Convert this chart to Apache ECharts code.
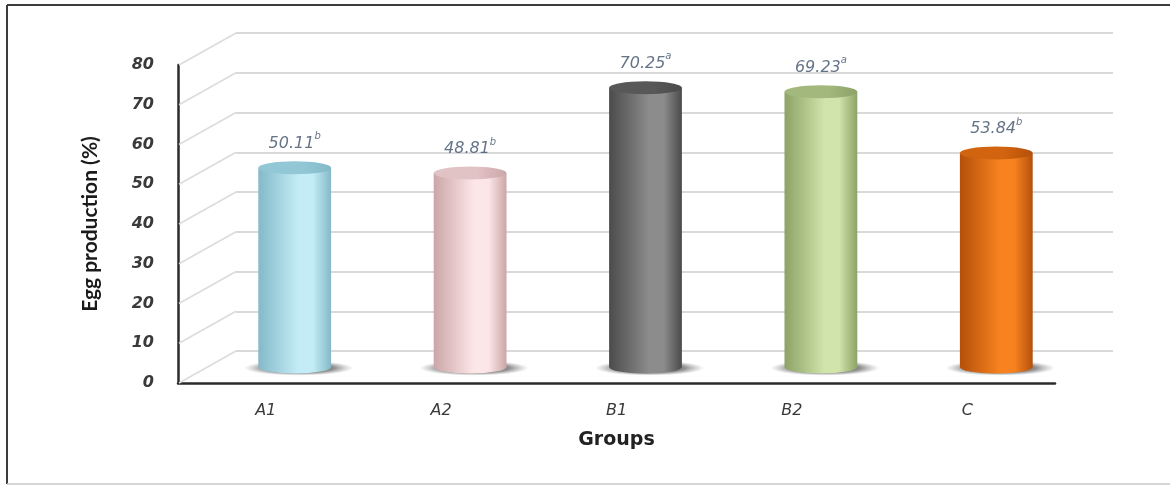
<!DOCTYPE html>
<html>
<head>
<meta charset="utf-8">
<title>Egg production by group</title>
<script src="https://cdn.jsdelivr.net/npm/echarts@6.0.0/dist/echarts.min.js"></script>
<style>
  html, body { margin: 0; padding: 0; background: #ffffff; }
  #chart { width: 1170px; height: 485px; }
</style>
</head>
<body>
<div id="chart"></div>
<script>
// Egg production (%) per experimental group, with significance letters
const groups = ['A1', 'A2', 'B1', 'B2', 'C'];
const eggProduction = [50.11, 48.81, 70.25, 69.23, 53.84];
const sigLetters = ['b', 'b', 'a', 'a', 'b'];
const yTicks = [0, 10, 20, 30, 40, 50, 60, 70, 80];

// cylinder colours: [edge, centre highlight, top cap]
const palette = [
  ['#84b9c8', '#c3ecf6', '#92c8d6'],
  ['#cba6a8', '#fde6e7', '#e2c3c5'],
  ['#4b4b4b', '#8c8c8c', '#585858'],
  ['#8ca266', '#d1e4ab', '#a2b87c'],
  ['#b4500b', '#f7821f', '#d2640f']
];

// depth of the pseudo-3D box (back wall offset from the front axes)
const DX = 58, DY = -32;

const chart = echarts.init(document.getElementById('chart'));

function bodyGradient(c) {
  return new echarts.graphic.LinearGradient(0, 0, 1, 0, [
    { offset: 0, color: c[0] },
    { offset: 0.55, color: c[1] },
    { offset: 0.75, color: c[1] },
    { offset: 1, color: c[0] }
  ]);
}

function renderCylinder(params, api) {
  const i = api.value(0);
  const v = api.value(1);
  const top = api.coord([i, v]);
  const base = api.coord([i, 0]);
  const bw = api.size([1, 0])[0];
  const w = bw * 0.415;
  const r = w / 2;
  const ry = 6.5;
  const cx = top[0] + DX / 2;
  const topY = top[1] + DY / 2;
  const baseY = base[1] + DY / 2;
  const c = palette[i];
  return {
    type: 'group',
    children: [
      {
        type: 'circle',
        shape: { cx: 0, cy: 0, r: r * 1.5 },
        x: cx + 4, y: baseY + 1, scaleY: 0.14,
        style: {
          fill: new echarts.graphic.RadialGradient(0.5, 0.5, 0.5, [
            { offset: 0, color: 'rgba(40,40,40,0.9)' },
            { offset: 0.65, color: 'rgba(70,70,70,0.6)' },
            { offset: 1, color: 'rgba(120,120,120,0)' }
          ])
        }
      },
      {
        type: 'circle',
        shape: { cx: 0, cy: 0, r: r },
        x: cx, y: baseY, scaleY: ry / r,
        style: { fill: bodyGradient(c) }
      },
      {
        type: 'rect',
        shape: { x: cx - r, y: topY, width: w, height: baseY - topY },
        style: { fill: bodyGradient(c) }
      },
      {
        type: 'circle',
        shape: { cx: 0, cy: 0, r: r },
        x: cx, y: topY, scaleY: ry / r,
        style: {
          fill: new echarts.graphic.LinearGradient(0, 0, 1, 0, [
            { offset: 0, color: c[2] },
            { offset: 0.6, color: c[2] },
            { offset: 1, color: c[0] }
          ])
        }
      }
    ]
  };
}

function renderSideWall(params, api) {
  const y = api.coord([0, api.value(1)])[1];
  const x0 = params.coordSys.x;
  return {
    type: 'line',
    shape: { x1: x0 + 1, y1: y, x2: x0 + DX, y2: y + DY },
    style: { stroke: '#dcdcdc', lineWidth: 1.6 }
  };
}

const tickFont = { fontFamily: 'DejaVu Sans', fontStyle: 'italic' };

chart.setOption({
  backgroundColor: '#ffffff',
  animation: false,
  grid: [
    { left: 178, top: 65, width: 877, height: 318 },
    { left: 178 + DX, top: 65 + DY, width: 877, height: 318 }
  ],
  xAxis: [
    {
      type: 'category', gridIndex: 0, data: groups,
      axisLine: { lineStyle: { color: '#2b2b2b', width: 2.5 } },
      axisTick: { show: false },
      axisLabel: Object.assign({ color: '#3a3a3a', fontSize: 16, margin: 20 }, tickFont),
      name: 'Groups', nameLocation: 'middle', nameGap: 48,
      nameTextStyle: { fontFamily: 'DejaVu Sans', fontWeight: 'bold', fontSize: 19, color: '#222222' }
    },
    {
      type: 'category', gridIndex: 1, data: groups,
      axisLine: { show: false }, axisTick: { show: false }, axisLabel: { show: false }
    }
  ],
  yAxis: [
    {
      type: 'value', gridIndex: 0, min: 0, max: 80, interval: 10,
      axisLine: { show: true, lineStyle: { color: '#2b2b2b', width: 2.5 } },
      axisTick: { show: false },
      splitLine: { show: false },
      axisLabel: Object.assign({ color: '#3a3a3a', fontSize: 16, fontWeight: 'bold', margin: 24 }, tickFont),
      name: 'Egg production (%)', nameLocation: 'middle', nameGap: 77,
      nameTextStyle: { fontFamily: 'Lato', fontWeight: 'bold', fontSize: 21, color: '#1a1a1a' }
    },
    {
      type: 'value', gridIndex: 1, min: 0, max: 80, interval: 10,
      axisLine: { show: false }, axisTick: { show: false }, axisLabel: { show: false },
      splitLine: { show: true, lineStyle: { color: '#d9d9d9', width: 2 } }
    }
  ],
  series: [
    {
      type: 'custom', xAxisIndex: 0, yAxisIndex: 0, z: 1,
      data: yTicks.map(t => [0, t]),
      renderItem: renderSideWall,
      silent: true
    },
    {
      type: 'custom', xAxisIndex: 0, yAxisIndex: 0, z: 3,
      data: eggProduction.map((v, i) => [i, v]),
      renderItem: renderCylinder
    },
    {
      type: 'scatter', xAxisIndex: 0, yAxisIndex: 0, z: 4,
      data: eggProduction,
      symbolSize: 0,
      label: {
        show: true, position: 'top', distance: 0, offset: [DX / 2, -32],
        formatter: p => '{v|' + p.value.toFixed(2) + '}{s|' + sigLetters[p.dataIndex] + '}',
        rich: {
          v: { fontFamily: 'DejaVu Sans', fontStyle: 'italic', fontSize: 16, color: '#3f5069', lineHeight: 20, verticalAlign: 'bottom' },
          s: { fontFamily: 'DejaVu Sans', fontStyle: 'italic', fontSize: 10, color: '#3f5069', lineHeight: 20, verticalAlign: 'top' }
        }
      }
    }
  ],
  graphic: [
    { type: 'line', shape: { x1: 7, y1: 5, x2: 1170, y2: 5 }, style: { stroke: '#3c3c3c', lineWidth: 2 } },
    { type: 'line', shape: { x1: 7, y1: 5, x2: 7, y2: 484 }, style: { stroke: '#3c3c3c', lineWidth: 2 } },
    { type: 'line', shape: { x1: 7, y1: 484, x2: 1170, y2: 484 }, style: { stroke: '#c8c8c8', lineWidth: 1.5 } }
  ]
});
</script>
</body>
</html>
